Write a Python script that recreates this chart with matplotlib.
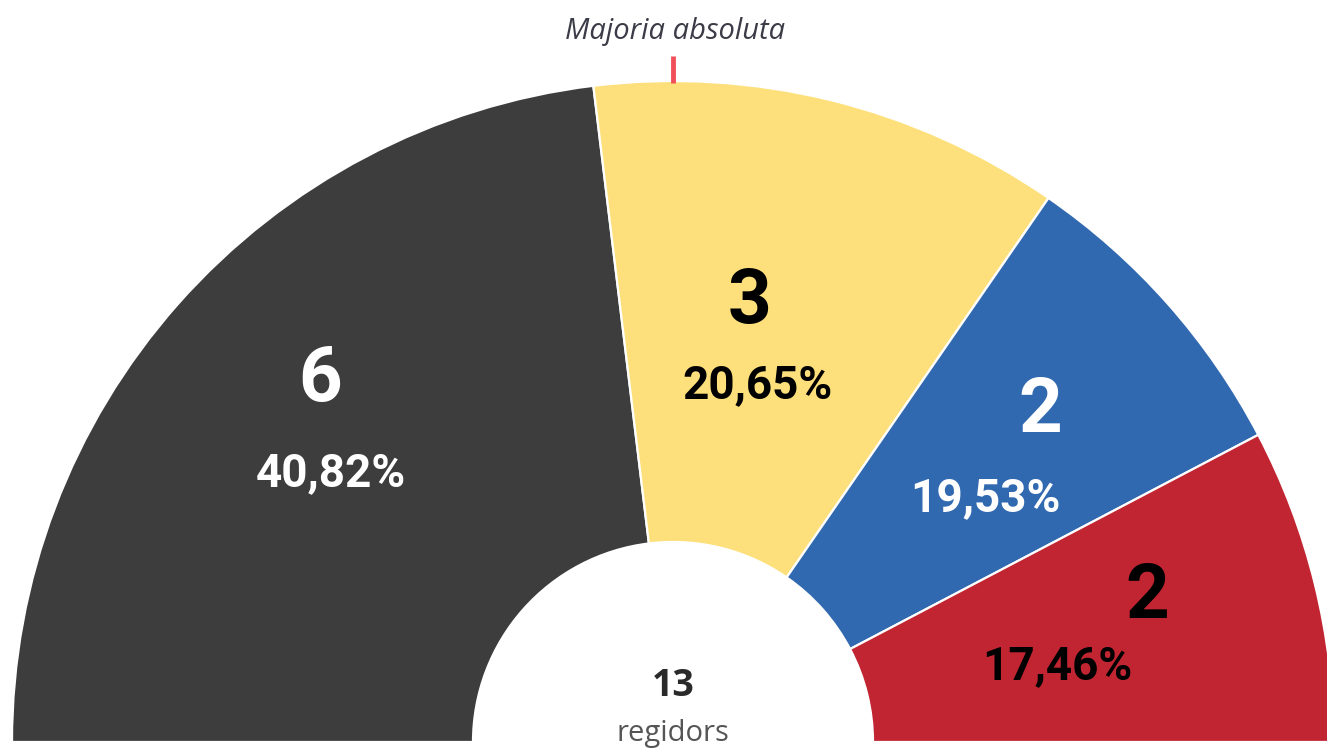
import matplotlib
matplotlib.use('Agg')
import matplotlib.pyplot as plt

# seats per party (left to right) and vote share
seats = [6, 3, 2, 2]
shares = ['40,82%', '20,65%', '19,53%', '17,46%']
colors = ['#3d3d3d', '#fde07b', '#3169b0', '#c22532']
textColors = ['white', 'black', 'white', 'black']
totalSeats = sum(seats)

W, H = 1327, 750
fig = plt.figure(figsize=(W/100, H/100), dpi=100)
ax = fig.add_axes([0, 0, 1, 1])

# centre of the half donut, in pixel coords (y up)
cx, cy = 673, H - 742
rOut, rIn = 661, 200

# hidden lower half so the visible part spans 180 degrees
wedges, _ = ax.pie(seats + [totalSeats], startangle=180, counterclock=False,
                   radius=rOut, center=(cx, cy), frame=True,
                   colors=colors + ['white'],
                   wedgeprops=dict(width=rOut - rIn, edgecolor='white', linewidth=1.6))
wedges[-1].set_visible(False)

ax.set_xlim(0, W)
ax.set_ylim(0, H)
ax.set_aspect('equal')
ax.axis('off')

#label positions (pixels from top-left) for seat number and percentage
seatPos = [(320, 380), (750, 302), (1040, 411), (1147, 597)]
sharePos = [(331, 473), (757, 385), (985, 498), (1057, 666)]

for n, s, col, p1, p2 in zip(seats, shares, textColors, seatPos, sharePos):
    ax.text(p1[0], H - p1[1], str(n), ha='center', va='center', color=col,
            fontsize=55, fontweight='bold', family='Roboto')
    ax.text(p2[0], H - p2[1], s, ha='center', va='center', color=col,
            fontsize=33, fontweight='bold', family='Roboto')

# majority marker
ax.plot([cx, cx], [H - 56, H - 83], color='#f0505a', linewidth=3.5, solid_capstyle='butt')
ax.text(cx + 2, H - 32, 'Majoria absoluta', ha='center', va='center', color='#3c3c48',
        fontsize=21, style='italic', family='Open Sans')

# centre text
ax.text(cx, H - 686, str(totalSeats), ha='center', va='center', color='#2a2a2a',
        fontsize=27, fontweight='bold', family='Open Sans')
ax.text(cx, H - 733, 'regidors', ha='center', va='center', color='#555555',
        fontsize=21, family='Open Sans')

fig.savefig('out.png', dpi=100)
